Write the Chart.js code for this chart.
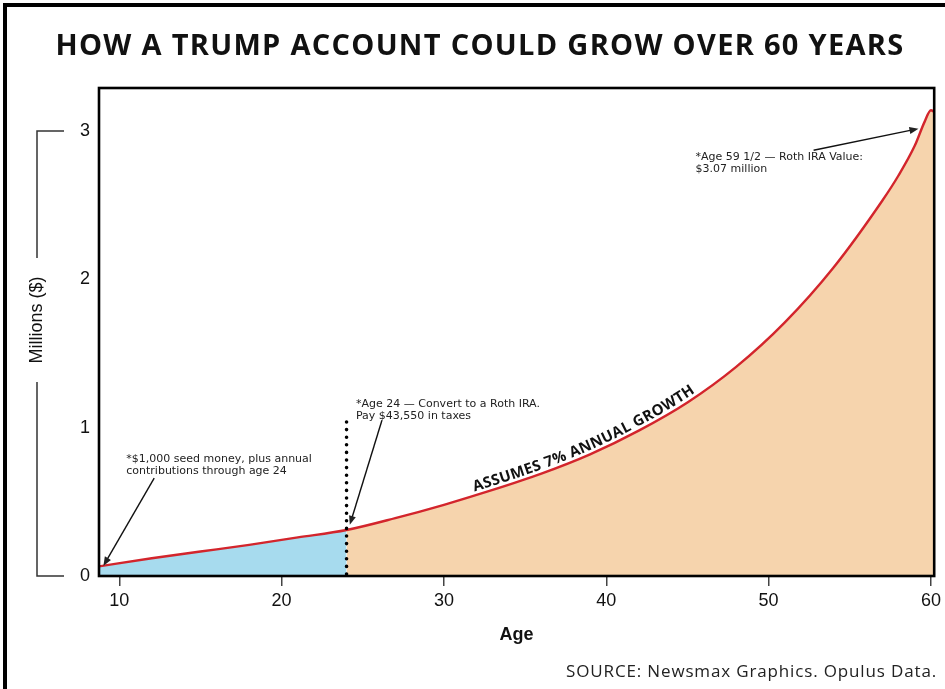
<!DOCTYPE html>
<html>
<head>
<meta charset="utf-8">
<script src="https://cdn.jsdelivr.net/npm/chart.js@4.4.1/dist/chart.umd.min.js"></script>
<style>
  html, body { margin: 0; padding: 0; background: #fff; }
  #wrap { width: 945px; height: 689px; position: relative; }
</style>
</head>
<body>
<div id="wrap"><canvas id="growthChart"></canvas></div>
<script>
// values (millions of dollars by age)
const ages = [8.75, 12, 15, 18, 21, 24, 27, 30, 33, 36, 39, 42, 45, 48, 51, 54, 57, 58, 59, 59.6, 60, 60.2];
const balances = [0.065, 0.12, 0.165, 0.21, 0.26, 0.31, 0.39, 0.48, 0.58, 0.69, 0.82, 0.98, 1.17, 1.41, 1.71, 2.08, 2.53, 2.70, 2.90, 3.06, 3.14, 3.13];
const xTicks = [10, 20, 30, 40, 50, 60];
const yTicks = [0, 1, 2, 3];
const conversionAge = 24;
const dottedTop = 1.04;

const points = ages.map((a, i) => ({ x: a, y: balances[i] }));
const splitIdx = ages.indexOf(conversionAge);
const seedPart = points.slice(0, splitIdx + 1);
const rothPart = points.slice(splitIdx);

const notes = [
  { lines: ['*$1,000 seed money, plus annual', 'contributions through age 24'], at: [10.43, 0.79],
    arrow: [[12.15, 0.66], [9.02, 0.068]] },
  { lines: ['*Age 24 \u2014 Convert to a Roth IRA.', 'Pay $43,550 in taxes'], at: [24.58, 1.16],
    arrow: [[26.18, 1.05], [24.2, 0.345]] },
  { lines: ['*Age 59 1/2 \u2014 Roth IRA Value:', '$3.07 million'], at: [45.5, 2.825],
    arrow: [[52.77, 2.87], [59.23, 3.016]] }
];

function drawArrow(ctx, x1, y1, x2, y2) {
  const ang = Math.atan2(y2 - y1, x2 - x1);
  const len = 9, half = 3.5;
  ctx.beginPath();
  ctx.moveTo(x1, y1);
  ctx.lineTo(x2 - Math.cos(ang) * len * 0.8, y2 - Math.sin(ang) * len * 0.8);
  ctx.stroke();
  ctx.beginPath();
  ctx.moveTo(x2, y2);
  ctx.lineTo(x2 - Math.cos(ang) * len - Math.sin(ang) * half, y2 - Math.sin(ang) * len + Math.cos(ang) * half);
  ctx.lineTo(x2 - Math.cos(ang) * len + Math.sin(ang) * half, y2 - Math.sin(ang) * len - Math.cos(ang) * half);
  ctx.closePath();
  ctx.fill();
}

// sample the drawn bezier of the red line into a polyline
function curvePolyline(chart) {
  const pts = chart.getDatasetMeta(0).data;
  const out = [];
  for (let i = 0; i < pts.length - 1; i++) {
    const p0 = pts[i], p3 = pts[i + 1];
    const c1x = p0.cp2x ?? p0.x, c1y = p0.cp2y ?? p0.y;
    const c2x = p3.cp1x ?? p3.x, c2y = p3.cp1y ?? p3.y;
    for (let k = 0; k < 20; k++) {
      const t = k / 20, u = 1 - t;
      out.push({
        x: u * u * u * p0.x + 3 * u * u * t * c1x + 3 * u * t * t * c2x + t * t * t * p3.x,
        y: u * u * u * p0.y + 3 * u * u * t * c1y + 3 * u * t * t * c2y + t * t * t * p3.y
      });
    }
  }
  const last = pts[pts.length - 1];
  out.push({ x: last.x, y: last.y });
  let s = 0;
  out[0].s = 0;
  for (let i = 1; i < out.length; i++) {
    s += Math.hypot(out[i].x - out[i - 1].x, out[i].y - out[i - 1].y);
    out[i].s = s;
  }
  return out;
}

function pointAt(poly, s) {
  for (let i = 1; i < poly.length; i++) {
    if (poly[i].s >= s) {
      const a = poly[i - 1], b = poly[i];
      const f = (s - a.s) / ((b.s - a.s) || 1);
      return { x: a.x + (b.x - a.x) * f, y: a.y + (b.y - a.y) * f, ang: Math.atan2(b.y - a.y, b.x - a.x) };
    }
  }
  const a = poly[poly.length - 2], b = poly[poly.length - 1];
  return { x: b.x, y: b.y, ang: Math.atan2(b.y - a.y, b.x - a.x) };
}

const decor = {
  id: 'decor',
  afterDatasetsDraw(chart) {
    const { ctx, scales: { x, y } } = chart;
    ctx.save();

    // dotted divider at the conversion age
    ctx.strokeStyle = '#000';
    ctx.lineWidth = 3.6;
    ctx.lineCap = 'round';
    ctx.setLineDash([0, 7.6]);
    ctx.beginPath();
    ctx.moveTo(x.getPixelForValue(conversionAge), y.getPixelForValue(0) - 2);
    ctx.lineTo(x.getPixelForValue(conversionAge), y.getPixelForValue(dottedTop));
    ctx.stroke();
    ctx.setLineDash([]);
    ctx.lineCap = 'butt';

    // notes with arrows
    ctx.fillStyle = '#222';
    ctx.strokeStyle = '#111';
    ctx.lineWidth = 1.4;
    ctx.font = '11px "DejaVu Sans", sans-serif';
    ctx.textAlign = 'left';
    ctx.textBaseline = 'middle';
    notes.forEach(n => {
      const tx = x.getPixelForValue(n.at[0]), ty = y.getPixelForValue(n.at[1]);
      n.lines.forEach((l, i) => ctx.fillText(l, tx, ty + i * 12.5));
      const [a, b] = n.arrow;
      drawArrow(ctx, x.getPixelForValue(a[0]), y.getPixelForValue(a[1]), x.getPixelForValue(b[0]), y.getPixelForValue(b[1]));
    });

    // growth label riding on the curve
    const poly = curvePolyline(chart);
    const label = 'ASSUMES 7% ANNUAL GROWTH';
    ctx.font = 'bold 15px "Open Sans", sans-serif';
    ctx.fillStyle = '#111';
    ctx.textAlign = 'center';
    ctx.textBaseline = 'alphabetic';
    const startX = x.getPixelForValue(31.85);
    let s = poly.find(p => p.x >= startX).s;
    for (const ch of label) {
      const w = ctx.measureText(ch).width;
      const p = pointAt(poly, s + w / 2);
      ctx.save();
      ctx.translate(p.x, p.y);
      ctx.rotate(p.ang);
      ctx.fillText(ch, 0, -4);
      ctx.restore();
      s += w + 0.4;
    }
    ctx.restore();
  },
  afterDraw(chart) {
    const { ctx, chartArea: area, scales: { y } } = chart;
    ctx.save();
    // plot frame
    ctx.strokeStyle = '#000';
    ctx.lineWidth = 2.6;
    ctx.strokeRect(area.left, area.top, area.right - area.left, area.bottom - area.top);

    // y axis title inside a bracket
    const top = y.getPixelForValue(yTicks[yTicks.length - 1]);
    const bot = y.getPixelForValue(yTicks[0]);
    const mid = 320;
    ctx.strokeStyle = '#333';
    ctx.lineWidth = 1.5;
    ctx.beginPath();
    ctx.moveTo(64, top); ctx.lineTo(37, top); ctx.lineTo(37, mid - 62);
    ctx.moveTo(37, mid + 62); ctx.lineTo(37, bot); ctx.lineTo(64, bot);
    ctx.stroke();
    ctx.save();
    ctx.translate(37, mid);
    ctx.rotate(-Math.PI / 2);
    ctx.fillStyle = '#111';
    ctx.textAlign = 'center';
    ctx.textBaseline = 'middle';
    ctx.font = '18px "Liberation Sans", Arial, sans-serif';
    ctx.fillText('Millions ($)', 0, 0);
    ctx.restore();

    // title and source
    ctx.fillStyle = '#111';
    ctx.textAlign = 'center';
    ctx.textBaseline = 'alphabetic';
    ctx.font = 'bold 29px "Open Sans", sans-serif';
    ctx.letterSpacing = '1.3px';
    ctx.fillText('HOW A TRUMP ACCOUNT COULD GROW OVER 60 YEARS', 480, 55);
    ctx.textAlign = 'right';
    ctx.font = '17px "Open Sans", sans-serif';
    ctx.letterSpacing = '0.85px';
    ctx.fillStyle = '#222';
    ctx.fillText('SOURCE: Newsmax Graphics. Opulus Data.', 937, 677);
    ctx.letterSpacing = '0px';

    // outer frame of the graphic
    ctx.strokeStyle = '#000';
    ctx.lineWidth = 4;
    ctx.beginPath();
    ctx.moveTo(5, 689); ctx.lineTo(5, 5); ctx.lineTo(945, 5);
    ctx.stroke();
    ctx.restore();
  }
};

const ctx = document.getElementById('growthChart').getContext('2d');
new Chart(ctx, {
  type: 'line',
  data: {
    datasets: [
      { data: points, order: 0, fill: false, borderColor: '#d3252c', borderWidth: 2.4, pointRadius: 0, cubicInterpolationMode: 'monotone' },
      { data: seedPart, order: 1, fill: 'origin', backgroundColor: '#a7dbee', borderWidth: 0, pointRadius: 0, cubicInterpolationMode: 'monotone' },
      { data: rothPart, order: 1, fill: 'origin', backgroundColor: '#f6d4ad', borderWidth: 0, pointRadius: 0, cubicInterpolationMode: 'monotone' }
    ]
  },
  options: {
    responsive: true,
    maintainAspectRatio: false,
    animation: false,
    layout: { padding: { top: 88, right: 10, left: 0, bottom: 0 } },
    plugins: { legend: { display: false }, tooltip: { enabled: false } },
    scales: {
      x: {
        type: 'linear',
        min: 8.75,
        max: 60.2,
        afterFit: s => { s.height = 113; },
        afterBuildTicks: s => { s.ticks = xTicks.map(v => ({ value: v })); },
        border: { display: false },
        grid: { drawOnChartArea: false, drawTicks: true, tickLength: 10, color: '#444', lineWidth: 1.5 },
        ticks: { color: '#111', padding: 4, maxRotation: 0, font: { family: '"Liberation Sans", Arial, sans-serif', size: 18 } },
        title: { display: true, text: 'Age', color: '#111', padding: { top: 0, bottom: 43 },
                 font: { family: '"Liberation Sans", Arial, sans-serif', size: 18, weight: 'bold' } }
      },
      y: {
        min: 0,
        max: 3.29,
        afterFit: s => { s.width = 99; },
        afterBuildTicks: s => { s.ticks = yTicks.map(v => ({ value: v })); },
        border: { display: false },
        grid: { display: false, drawTicks: false },
        ticks: { color: '#111', padding: 9, font: { family: '"Liberation Sans", Arial, sans-serif', size: 18 } }
      }
    }
  },
  plugins: [decor]
});
</script>
</body>
</html>
